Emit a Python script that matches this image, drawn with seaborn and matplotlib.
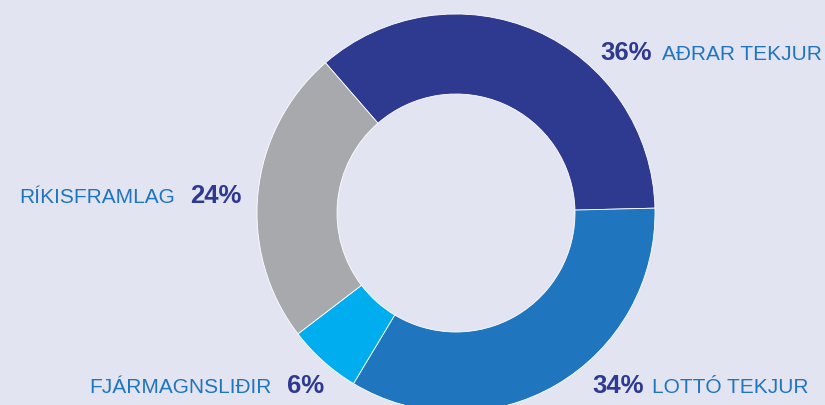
import matplotlib
matplotlib.use("Agg")
import matplotlib.pyplot as plt
import seaborn as sns

# Data
labels = ["AÐRAR TEKJUR", "LOTTÓ TEKJUR", "FJÁRMAGNSLIÐIR", "RÍKISFRAMLAG"]
values = [36, 34, 6, 24]
pct_labels = ["36%", "34%", "6%", "24%"]

sns.set_theme(style="white")
plt.rcParams['font.family'] = ['Liberation Sans', 'DejaVu Sans']

bg = "#E3E4F2"
colors = sns.color_palette(["#2E3990", "#1F75BE", "#00AEEF", "#A8A9AD"])
name_color = "#1F75BE"
pct_color = "#2E3990"

W, H = 825, 405
fig = plt.figure(figsize=(W / 100, H / 100), dpi=100, facecolor=bg)
ax = fig.add_axes([0, 0, 1, 1])
ax.set_facecolor(bg)

cx, cy, r = 456, H - 213, 199
ax.pie(values, colors=colors, startangle=131, counterclock=False,
       center=(cx, cy), radius=r,
       wedgeprops=dict(width=80, edgecolor="white", linewidth=0.6))
ax.set_xlim(0, W)
ax.set_ylim(0, H)
ax.set_aspect("equal")
ax.axis("off")

name_fs = 15
pct_fs = 18.5

def y(v):
    return H - v

# AÐRAR TEKJUR (top right): pct then name
ax.text(600, y(60), pct_labels[0], color=pct_color, fontsize=pct_fs, fontweight="bold", va="baseline", ha="left")
ax.text(662, y(60), labels[0], color=name_color, fontsize=name_fs, va="baseline", ha="left")
# LOTTÓ TEKJUR (bottom right)
ax.text(592, y(393), pct_labels[1], color=pct_color, fontsize=pct_fs, fontweight="bold", va="baseline", ha="left")
ax.text(652, y(393), labels[1], color=name_color, fontsize=name_fs, va="baseline", ha="left")
# FJÁRMAGNSLIÐIR (bottom left): name then pct
ax.text(272, y(393), labels[2], color=name_color, fontsize=name_fs, va="baseline", ha="right")
ax.text(287, y(393), pct_labels[2], color=pct_color, fontsize=pct_fs, fontweight="bold", va="baseline", ha="left")
# RÍKISFRAMLAG (left)
ax.text(175, y(203), labels[3], color=name_color, fontsize=name_fs, va="baseline", ha="right")
ax.text(190, y(203), pct_labels[3], color=pct_color, fontsize=pct_fs, fontweight="bold", va="baseline", ha="left")

fig.savefig("out.png", dpi=100, facecolor=bg)
